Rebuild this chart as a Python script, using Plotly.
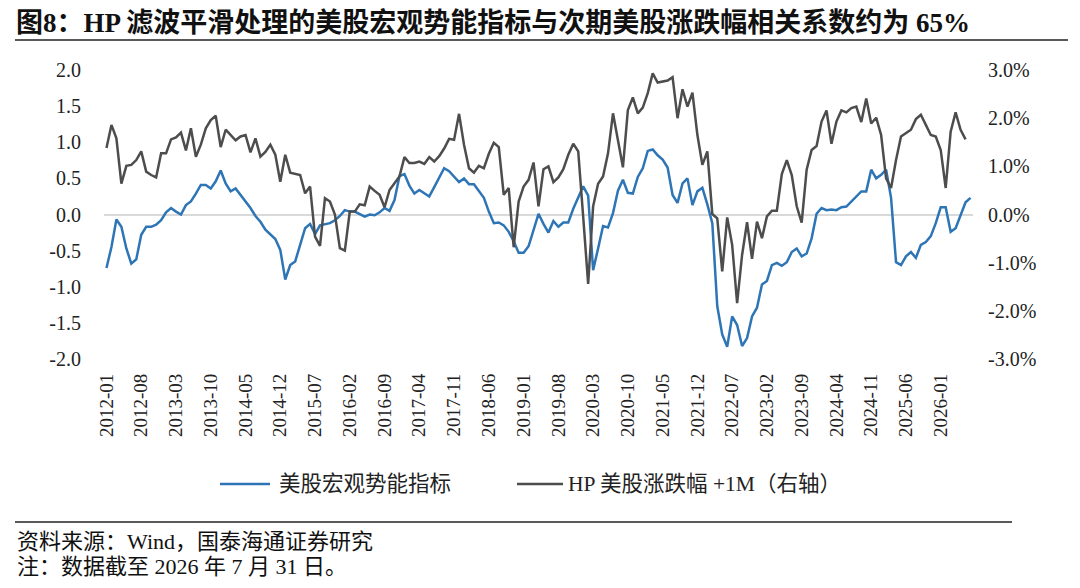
import pandas as pd
import plotly.graph_objects as go

# monthly categories 2012-01 .. 2026-07
months = pd.date_range("2012-01-01", "2026-07-01", freq="MS").strftime("%Y-%m").tolist()

# 美股宏观势能指标 (left axis)
momentum = [
    -0.74, -0.45, -0.07, -0.17, -0.47, -0.68, -0.62, -0.28, -0.17, -0.17,
    -0.14, -0.08, 0.03, 0.09, 0.04, 0.00, 0.13, 0.18, 0.29, 0.41,
    0.41, 0.36, 0.46, 0.61, 0.43, 0.32, 0.36, 0.27, 0.18, 0.09,
    -0.02, -0.10, -0.21, -0.28, -0.34, -0.49, -0.90, -0.70, -0.65, -0.42,
    -0.19, -0.13, -0.27, -0.15, -0.14, -0.12, -0.08, -0.02, 0.06, 0.04,
    0.04, 0.00, -0.03, 0.00, -0.01, 0.03, 0.09, 0.05, 0.20, 0.53,
    0.56, 0.40, 0.29, 0.34, 0.30, 0.25, 0.38, 0.50, 0.64, 0.60,
    0.53, 0.45, 0.50, 0.42, 0.42, 0.32, 0.23, 0.04, -0.12, -0.11,
    -0.15, -0.24, -0.37, -0.53, -0.53, -0.44, -0.21, 0.01, -0.13, -0.25,
    -0.09, -0.17, -0.11, -0.11, 0.08, 0.23, 0.39, 0.26, -0.77, -0.47,
    -0.16, -0.18, 0.02, 0.33, 0.48, 0.30, 0.29, 0.52, 0.64, 0.88,
    0.90, 0.82, 0.76, 0.65, 0.27, 0.16, 0.43, 0.50, 0.13, 0.32,
    0.37, 0.14, -0.12, -1.27, -1.66, -1.83, -1.41, -1.53, -1.82, -1.71,
    -1.41, -1.29, -0.97, -0.92, -0.70, -0.67, -0.71, -0.66, -0.52, -0.47,
    -0.58, -0.54, -0.33, 0.01, 0.09, 0.06, 0.07, 0.06, 0.10, 0.11,
    0.18, 0.25, 0.32, 0.32, 0.62, 0.50, 0.55, 0.62, 0.23, -0.66,
    -0.70, -0.58, -0.52, -0.60, -0.42, -0.38, -0.30, -0.12, 0.10, 0.10,
    -0.24, -0.19, 0.00, 0.17, 0.23,
]

# HP 美股涨跌幅 +1M, in % (right axis), ends one month earlier
hp_return = [
    1.38, 1.86, 1.58, 0.64, 1.01, 1.03, 1.13, 1.31, 0.89, 0.82,
    0.77, 1.27, 1.27, 1.56, 1.60, 1.70, 1.33, 1.79, 1.20, 1.45,
    1.79, 1.96, 2.05, 1.40, 1.76, 1.65, 1.54, 1.62, 1.65, 1.29,
    1.58, 1.20, 1.30, 1.45, 1.24, 0.68, 1.24, 0.87, 0.84, 0.82,
    0.44, 0.58, -0.46, -0.65, 0.34, 0.27, 0.00, -0.70, -0.75, 0.06,
    0.06, 0.21, 0.19, 0.58, 0.49, 0.41, 0.15, 0.51, 0.65, 0.79,
    1.19, 1.07, 1.07, 1.10, 1.05, 1.19, 1.10, 1.21, 1.37, 1.57,
    1.55, 2.09, 1.45, 0.96, 0.87, 1.01, 0.96, 1.26, 1.49, 1.40,
    0.41, 0.55, -0.68, 0.27, 0.58, 0.72, 1.08, 0.17, 0.94, 1.00,
    0.67, 0.77, 0.94, 1.24, 1.47, 1.31, -0.05, -1.44, 0.17, 0.64,
    0.79, 1.27, 2.10, 1.51, 0.98, 2.17, 2.43, 2.10, 2.22, 2.52,
    2.93, 2.74, 2.76, 2.78, 2.85, 2.00, 2.60, 2.24, 2.53, 1.65,
    1.03, 1.31, 0.01, -0.08, -1.18, -0.06, -0.63, -1.84, -0.84, -0.16,
    -0.92, -0.15, -0.49, -0.04, 0.08, 0.08, 0.84, 1.13, 0.82, 0.17,
    -0.17, 0.93, 1.34, 1.42, 1.93, 2.16, 1.47, 1.93, 2.16, 2.12,
    2.21, 2.24, 1.92, 2.41, 1.89, 2.01, 1.65, 0.75, 0.55, 1.13,
    1.62, 1.69, 1.76, 1.98, 2.07, 1.86, 1.65, 1.62, 1.34, 0.55,
    1.72, 2.12, 1.76, 1.56,
]

series_names = ["美股宏观势能指标", "HP 美股涨跌幅 +1M（右轴）"]
x_ticks = months[::7]
left_ticks = [-2.0, -1.5, -1.0, -0.5, 0.0, 0.5, 1.0, 1.5, 2.0]
right_ticks = [-3, -2, -1, 0, 1, 2, 3]

FONT = "Liberation Serif, Times New Roman, Noto Sans CJK SC"
BLUE = "#2e75b6"
GRAY = "#4d4d4d"

# plot area: 869 x 289 px, page body adds an 8px offset
PW, PH = 869, 289
L, T = 96, 62


def px(x):  # page x -> paper x
    return (x - 8 - L) / PW


def py(y):  # page y -> paper y
    return (T + PH - (y - 8)) / PH


fig = go.Figure()
fig.add_trace(go.Scatter(
    x=months, y=momentum, mode="lines", name=series_names[0],
    line=dict(color=BLUE, width=2.5),
))
fig.add_trace(go.Scatter(
    x=months[:len(hp_return)], y=hp_return, mode="lines", name=series_names[1],
    line=dict(color=GRAY, width=2.5), yaxis="y2",
))

# legend drawn by hand so the sample lines can be as long as in the source
legend_shapes = []
legend_notes = []
for (x0, x1, tx), name, col in zip([(220, 270, 277), (517, 563, 566)], series_names, [BLUE, GRAY]):
    legend_shapes.append(dict(type="line", xref="paper", yref="paper", x0=px(x0), x1=px(x1),
                              y0=py(484), y1=py(484), line=dict(color=col, width=2.5)))
    legend_notes.append(dict(text=name, xref="paper", yref="paper", x=px(tx), y=py(484),
                             xanchor="left", yanchor="middle", showarrow=False,
                             font=dict(size=21.5, color="#222")))

fig.update_layout(
    width=1080, height=588,
    margin=dict(l=L, r=1080 - L - PW, t=T, b=588 - T - PH, autoexpand=False),
    paper_bgcolor="white", plot_bgcolor="white",
    font=dict(family=FONT, size=19, color="#222"),
    showlegend=False,
    xaxis=dict(
        type="category", categoryorder="array", categoryarray=months,
        range=[-0.5, len(months) - 0.5],
        tickmode="array", tickvals=x_ticks, ticktext=x_ticks,
        tickangle=-90, tickfont=dict(size=19), ticks="", showgrid=False,
        showline=False, zeroline=False, ticklabelstandoff=10,
    ),
    yaxis=dict(
        range=[-2, 2], tickmode="array", tickvals=left_ticks,
        ticktext=[f"{v:.1f}" for v in left_ticks],
        showgrid=False, zeroline=True, zerolinecolor="#d9d9d9", zerolinewidth=2,
        showline=False, ticks="", ticklabelstandoff=22, tickfont=dict(size=20),
    ),
    yaxis2=dict(
        range=[-3, 3], overlaying="y", side="right", tickmode="array",
        tickvals=right_ticks, ticktext=[f"{v:.1f}%" for v in right_ticks],
        showgrid=False, zeroline=False, showline=False, ticks="",
        ticklabelstandoff=14, tickfont=dict(size=20),
    ),
    shapes=[
        dict(type="line", xref="paper", yref="paper", x0=px(15), x1=px(1068),
             y0=py(40), y1=py(40), line=dict(color="#222", width=1.5)),
        dict(type="line", xref="paper", yref="paper", x0=px(15), x1=px(1012),
             y0=py(522), y1=py(522), line=dict(color="#222", width=1.5)),
    ] + legend_shapes,
    annotations=[
        dict(text="<b>图8：HP 滤波平滑处理的美股宏观势能指标与次期美股涨跌幅相关系数约为 65%</b>",
             xref="paper", yref="paper", x=px(14), y=py(23), xanchor="left", yanchor="middle",
             showarrow=False, font=dict(size=27, color="#111")),
        dict(text="资料来源：Wind，国泰海通证券研究",
             xref="paper", yref="paper", x=px(15), y=py(541), xanchor="left", yanchor="middle",
             showarrow=False, font=dict(size=22, color="#111")),
        dict(text="注：数据截至 2026 年 7 月 31 日。",
             xref="paper", yref="paper", x=px(15), y=py(566), xanchor="left", yanchor="middle",
             showarrow=False, font=dict(size=22, color="#111")),
    ] + legend_notes,
)

fig.write_html("out.html")
